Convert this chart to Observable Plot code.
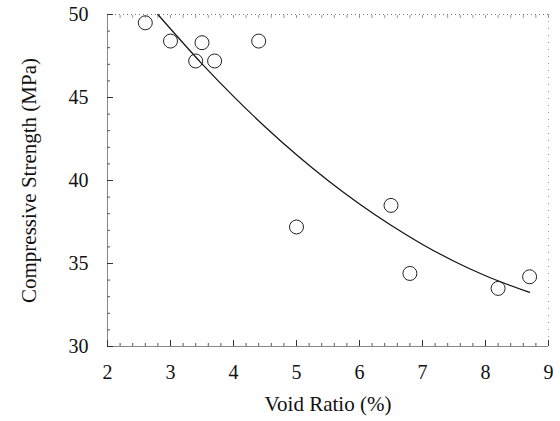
<!DOCTYPE html>
<html><head><meta charset="utf-8">
<script src="https://cdn.jsdelivr.net/npm/d3@7"></script>
<script src="https://cdn.jsdelivr.net/npm/@observablehq/plot@0.6"></script>
<style>
body{margin:0;background:#fff}
</style>
</head><body><div id="chart"></div>
<script>
// Measured points
const voidRatio = [2.6, 3.0, 3.5, 3.4, 3.7, 4.4, 5.0, 6.5, 6.8, 8.2, 8.7];
const strength  = [49.5, 48.4, 48.3, 47.2, 47.2, 48.4, 37.2, 38.5, 34.4, 33.5, 34.2];
// Fitted curve
const fitX = [2.8, 3.5, 4.0, 4.5, 5.0, 5.5, 6.0, 6.5, 7.0, 7.5, 8.0, 8.7];
const fitY = [50.0, 47.03, 45.07, 43.24, 41.55, 40.0, 38.58, 37.30, 36.15, 35.14, 34.26, 33.26];
// Ticks
const xMajor = [2, 3, 4, 5, 6, 7, 8, 9];
const xMinor = [2.2,2.4,2.6,2.8,3.2,3.4,3.6,3.8,4.2,4.4,4.6,4.8,5.2,5.4,5.6,5.8,6.2,6.4,6.6,6.8,7.2,7.4,7.6,7.8,8.2,8.4,8.6,8.8];
const yMajor = [30, 35, 40, 45, 50];
const yMinor = [31,32,33,34,36,37,38,39,41,42,43,44,46,47,48,49];
const xTitle = "Void Ratio (%)";
const yTitle = "Compressive Strength (MPa)";

const pts = voidRatio.map((v, i) => ({x: v, y: strength[i]}));
const fit = fitX.map((v, i) => ({x: v, y: fitY[i]}));

const chart = Plot.plot({
  width: 560, height: 421,
  marginLeft: 107, marginRight: 12, marginTop: 14, marginBottom: 75,
  style: {fontFamily: "Liberation Serif", fontSize: "20px", color: "#111", background: "#fff"},
  x: {domain: [2, 9]},
  y: {domain: [30, 50]},
  marks: [
    Plot.ruleY([50], {stroke: "#777", strokeDasharray: "1,3"}),
    Plot.ruleX([9], {stroke: "#999", strokeDasharray: "1,6"}),
    Plot.axisX({anchor: "top", ticks: xMajor.concat(xMinor), tickSize: -3, text: null, stroke: "#999", label: null}),
    Plot.ruleX([2], {stroke: "#888"}),
    Plot.ruleY([30], {stroke: "#888"}),
    Plot.axisX({ticks: xMajor, tickSize: -6, text: null, stroke: "#333", fontSize: 21, label: xTitle, labelAnchor: "center", labelArrow: "none", labelOffset: 64}),
    Plot.axisX({ticks: xMinor, tickSize: -3, text: null, label: null, stroke: "#555"}),
    Plot.axisX({ticks: xMajor, tickSize: 0, tickPadding: 18, tickFormat: d => d, fontSize: 20, label: null}),
    Plot.axisY({ticks: yMajor, tickSize: -6, text: null, stroke: "#333", fontSize: 21, label: yTitle, labelAnchor: "center", labelArrow: "none", labelOffset: 86}),
    Plot.axisY({ticks: yMinor, tickSize: -3, text: null, label: null, stroke: "#555"}),
    Plot.axisY({ticks: yMajor, tickSize: 0, tickPadding: 19, tickFormat: d => d, fontSize: 20, label: null}),
    Plot.line(fit, {x: "x", y: "y", curve: "monotone-x", stroke: "#111", strokeWidth: 1.2}),
    Plot.dot(pts, {x: "x", y: "y", r: 7, stroke: "#222", fill: "none", strokeWidth: 1})
  ]
});
document.getElementById("chart").appendChild(chart);
</script>
</body></html>
